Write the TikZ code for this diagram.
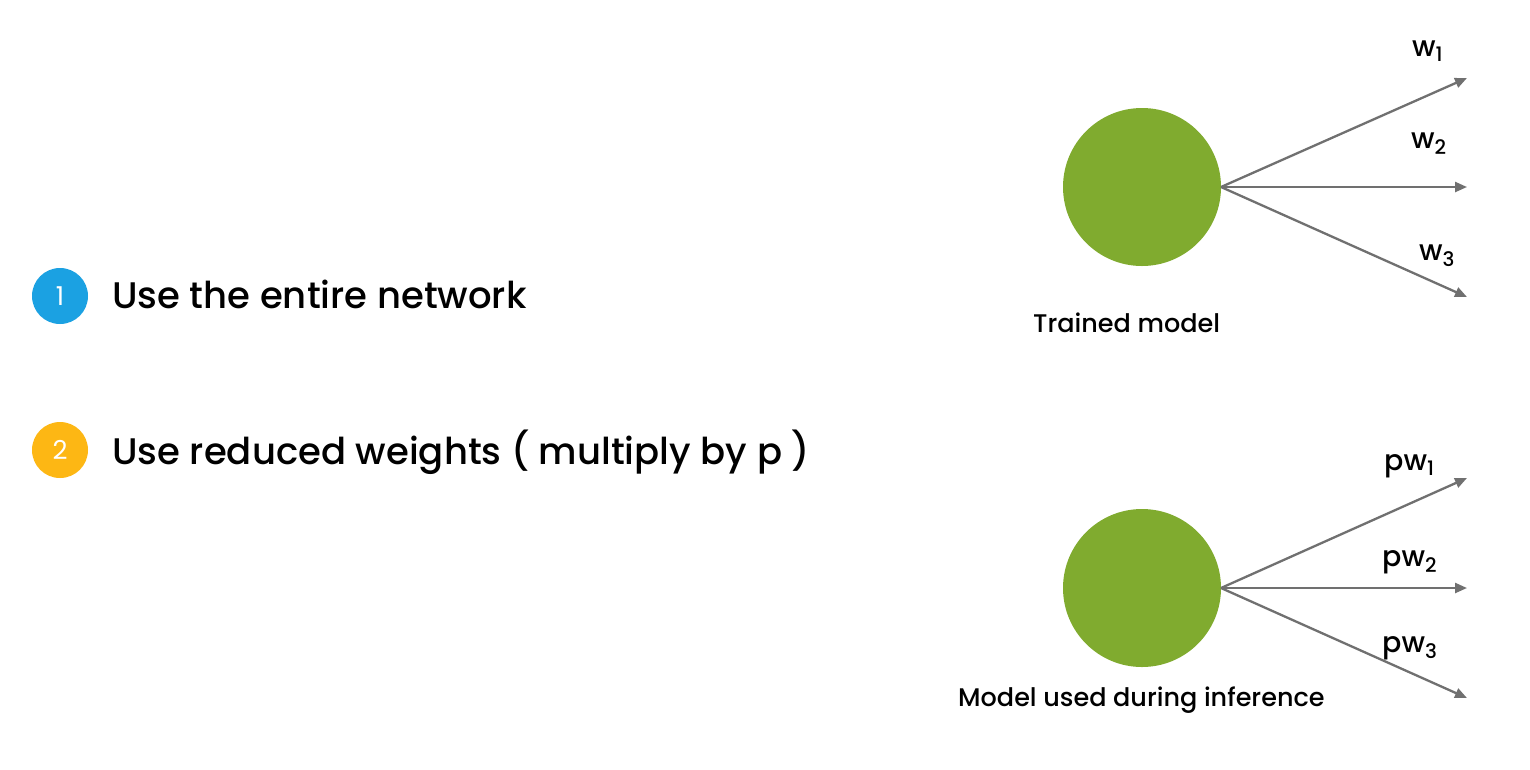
\documentclass[tikz,border=0pt]{standalone}
\usepackage{fontspec}
\setmainfont{Poppins}[UprightFont={* Medium}]
\newfontfamily\digitfont{Poppins}
\usetikzlibrary{arrows.meta}
\definecolor{numblue}{HTML}{1BA1E2}
\definecolor{numgold}{HTML}{FDB714}
\definecolor{neuron}{HTML}{80AB2F}
\definecolor{wire}{HTML}{707070}
\begin{document}
\begin{tikzpicture}[x=1pt,y=-1pt,
  bullet/.style={circle,minimum size=56pt,inner sep=0pt,text=white,font=\digitfont\fontsize{26}{30}\selectfont},
  point/.style={anchor=base west,inner sep=0pt,font=\fontsize{37}{44}\selectfont},
  unit/.style={circle,fill=neuron,minimum size=158pt,inner sep=0pt},
  caption/.style={anchor=base west,inner sep=0pt,font=\fontsize{25.5}{30}\selectfont},
  weight/.style={anchor=base west,inner sep=0pt,font=\fontsize{28.5}{34}\selectfont},
  link/.style={draw=wire,line width=2.3pt,-{Triangle[length=12pt,width=10pt]}}]
\useasboundingbox (0,0) rectangle (1530,769);
\fill[white] (0,0) rectangle (1530,769);

% numbered points
\node[bullet,fill=numblue] (b1) at (60,296) {1};
\node[point] (t1) at (112,308) {Use the entire network};
\node[bullet,fill=numgold] (b2) at (60,450) {2};
\node[point] (t2) at (112,464) {Use reduced weights ( multiply by p )};

% trained model
\node[unit] (n1) at (1142,187) {};
\coordinate (s1) at (1221,187);
\coordinate (e11) at (1467,78);
\coordinate (e12) at (1467,187);
\coordinate (e13) at (1467,297);
\draw[link] (s1) -- (e11);
\draw[link] (s1) -- (e12);
\draw[link] (s1) -- (e13);
\node[weight] (w1) at (1412,56) {w\textsubscript{1}};
\node[weight] (w2) at (1411,148) {w\textsubscript{2}};
\node[weight] (w3) at (1419,260) {w\textsubscript{3}};
\node[caption] (c1) at (1033,332) {Trained model};

% inference model
\node[unit] (n2) at (1142,588) {};
\coordinate (s2) at (1221,588);
\coordinate (e21) at (1467,478);
\coordinate (e22) at (1467,588);
\coordinate (e23) at (1467,698);
\draw[link] (s2) -- (e21);
\draw[link] (s2) -- (e22);
\draw[link] (s2) -- (e23);
\node[weight] (p1) at (1384,470) {pw\textsubscript{1}};
\node[weight] (p2) at (1382,566) {pw\textsubscript{2}};
\node[weight] (p3) at (1382,652) {pw\textsubscript{3}};
\node[caption] (c2) at (958,706) {Model used during inference};
\end{tikzpicture}
\end{document}
